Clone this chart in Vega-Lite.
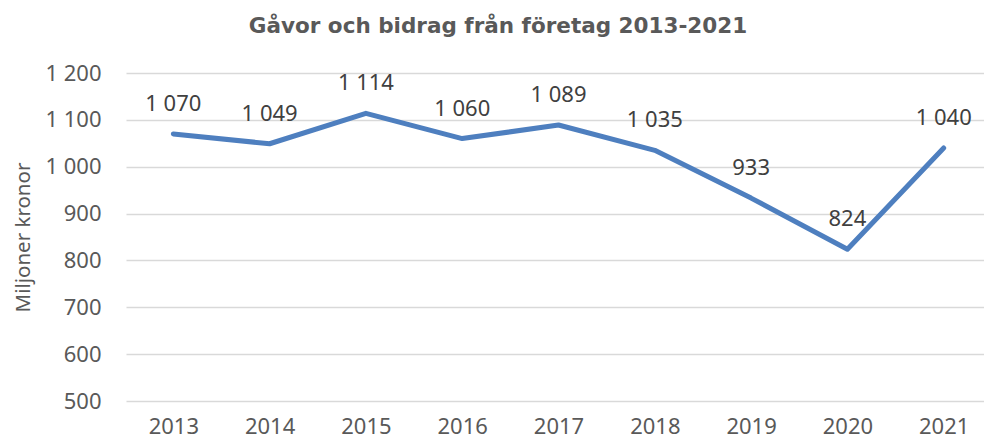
{
  "$schema": "https://vega.github.io/schema/vega-lite/v6.json",
  "width": 858,
  "height": 328,
  "autosize": {"type": "none"},
  "padding": {"left": 126, "top": 73, "right": 0, "bottom": 42},
  "background": "white",
  "title": {
    "text": "Gåvor och bidrag från företag 2013-2021",
    "font": "DejaVu Sans",
    "fontSize": 21.5,
    "fontWeight": "bold",
    "color": "#595959",
    "anchor": "middle",
    "frame": "group",
    "dx": -57,
    "offset": 25
  },
  "config": {
    "locale": {"number": {"decimal": ",", "thousands": " ", "grouping": [3], "currency": ["", " kr"]}},
    "view": {"stroke": null},
    "axis": {
      "labelFont": "Noto Sans",
      "labelFontSize": 22,
      "labelColor": "#595959",
      "titleFont": "Noto Sans",
      "titleFontSize": 20.5,
      "titleFontWeight": "normal",
      "titleColor": "#595959",
      "domain": false,
      "ticks": false
    }
  },
  "data": {
    "values": [
      {"year": "2013", "value": 1070},
      {"year": "2014", "value": 1049},
      {"year": "2015", "value": 1114},
      {"year": "2016", "value": 1060},
      {"year": "2017", "value": 1089},
      {"year": "2018", "value": 1035},
      {"year": "2019", "value": 933},
      {"year": "2020", "value": 824},
      {"year": "2021", "value": 1040}
    ]
  },
  "encoding": {
    "x": {
      "field": "year",
      "type": "ordinal",
      "scale": {"type": "point", "padding": 0.455, "align": 0.54},
      "axis": {"title": null, "labelAngle": 0, "labelPadding": 15, "grid": false}
    },
    "y": {
      "field": "value",
      "type": "quantitative",
      "scale": {"domain": [500, 1200], "nice": false, "zero": false},
      "axis": {
        "title": "Miljoner kronor",
        "values": [500, 600, 700, 800, 900, 1000, 1100, 1200],
        "format": ",.0f",
        "grid": true,
        "gridColor": "#d9d9d9",
        "gridWidth": 1.3,
        "labelPadding": 25,
        "titlePadding": 11
      }
    }
  },
  "layer": [
    {
      "mark": {"type": "line", "color": "#4e7fbf", "strokeWidth": 5, "strokeJoin": "round", "strokeCap": "round"}
    },
    {
      "mark": {"type": "text", "font": "Noto Sans", "fontSize": 22, "color": "#404040", "baseline": "middle", "dy": -30},
      "encoding": {"text": {"field": "value", "type": "quantitative", "format": ",.0f"}}
    }
  ]
}
